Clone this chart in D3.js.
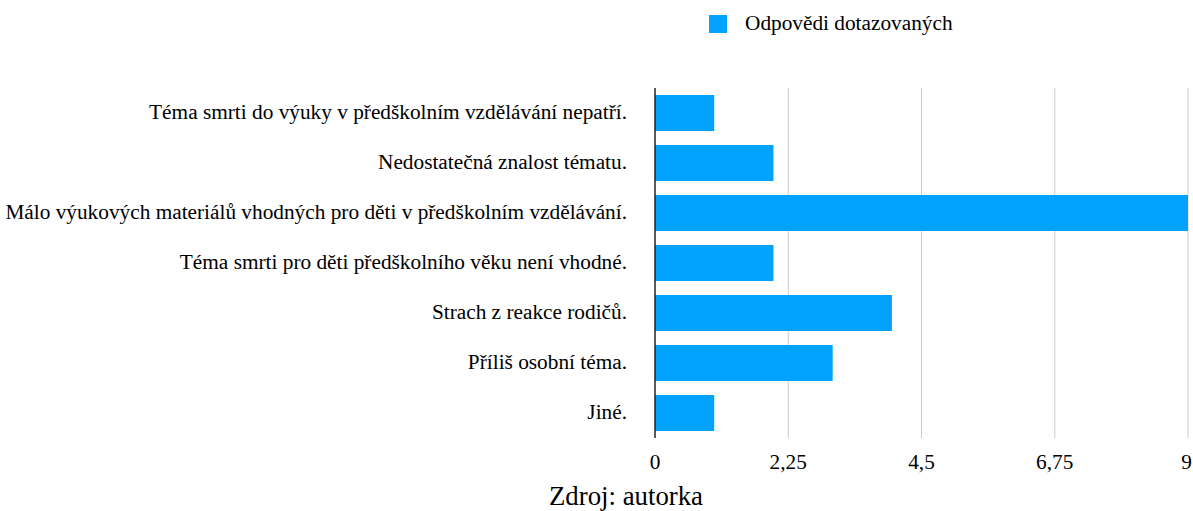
<!DOCTYPE html>
<html>
<head>
<meta charset="utf-8">
<script src="https://cdn.jsdelivr.net/npm/d3@7"></script>
</head>
<body style="margin:0">
<script>
const categories = [
  'Téma smrti do výuky v předškolním vzdělávání nepatří.',
  'Nedostatečná znalost tématu.',
  'Málo výukových materiálů vhodných pro děti v předškolním vzdělávání.',
  'Téma smrti pro děti předškolního věku není vhodné.',
  'Strach z reakce rodičů.',
  'Příliš osobní téma.',
  'Jiné.'
];
const values = [1, 2, 9, 2, 4, 3, 1];
const ticks = [0, 2.25, 4.5, 6.75, 9];
const seriesName = 'Odpovědi dotazovaných';
const source = 'Zdroj: autorka';

const width = 1193, height = 511;
const margin = { top: 88, right: 5, bottom: 73, left: 655 };
const barColor = '#03a2ff';
const font = "'Times New Roman'";

const svg = d3.select('body').append('svg')
  .attr('width', width)
  .attr('height', height);

const x = d3.scaleLinear().domain([0, 9]).range([margin.left, width - margin.right]);
const y = d3.scaleBand().domain(categories)
  .range([margin.top, height - margin.bottom])
  .paddingInner(0.28).paddingOuter(0.14);

// grid
svg.selectAll('line.grid')
  .data(ticks.slice(1))
  .join('line')
  .attr('class', 'grid')
  .attr('x1', d => x(d)).attr('x2', d => x(d))
  .attr('y1', margin.top).attr('y2', height - margin.bottom)
  .attr('stroke', '#cccccc').attr('stroke-width', 1);

// bars
svg.selectAll('rect.bar')
  .data(values)
  .join('rect')
  .attr('class', 'bar')
  .attr('x', x(0))
  .attr('y', (d, i) => y(categories[i]))
  .attr('width', d => x(d) - x(0))
  .attr('height', y.bandwidth())
  .attr('fill', barColor);

// zero line
svg.append('line')
  .attr('x1', x(0)).attr('x2', x(0))
  .attr('y1', margin.top).attr('y2', height - margin.bottom)
  .attr('stroke', '#222').attr('stroke-width', 1.5);

// category labels
svg.selectAll('text.cat')
  .data(categories)
  .join('text')
  .attr('class', 'cat')
  .attr('x', margin.left - 28)
  .attr('y', d => y(d) + y.bandwidth() / 2 + 6)
  .attr('text-anchor', 'end')
  .style('font-family', font)
  .style('font-size', '21.3px')
  .text(d => d);

// x tick labels
const fmt = d => String(d).replace('.', ',');
svg.selectAll('text.tick')
  .data(ticks)
  .join('text')
  .attr('class', 'tick')
  .attr('x', d => x(d))
  .attr('y', 469)
  .attr('text-anchor', d => d === 9 ? 'end' : 'middle')
  .attr('dx', d => d === 9 ? 4 : 0)
  .style('font-family', font)
  .style('font-size', '21.3px')
  .text(fmt);

// legend
svg.append('rect')
  .attr('x', 709).attr('y', 15)
  .attr('width', 18).attr('height', 18)
  .attr('fill', barColor);
svg.append('text')
  .attr('x', 745).attr('y', 30)
  .style('font-family', font)
  .style('font-size', '21.3px')
  .text(seriesName);

// source
svg.append('text')
  .attr('x', 626).attr('y', 505)
  .attr('text-anchor', 'middle')
  .style('font-family', font)
  .style('font-size', '26.8px')
  .text(source);
</script>
</body>
</html>
